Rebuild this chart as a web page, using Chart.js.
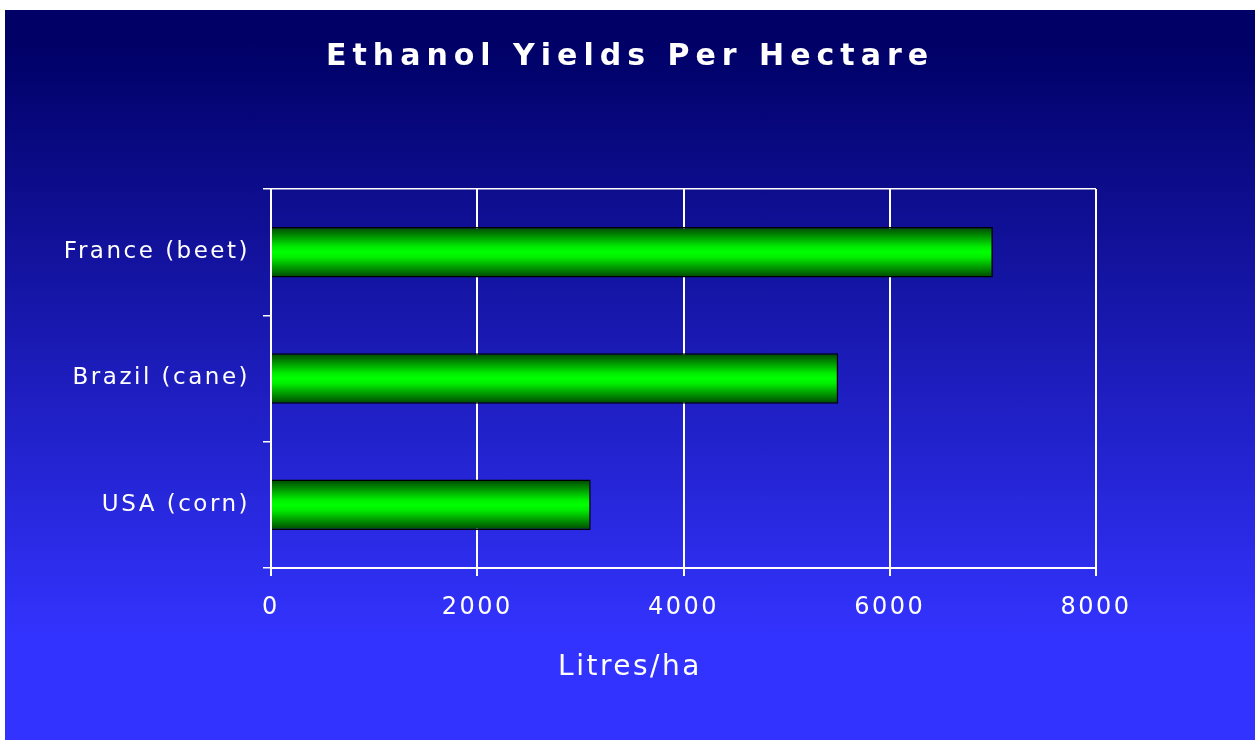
<!DOCTYPE html>
<html>
<head>
<meta charset="utf-8">
<script src="https://cdn.jsdelivr.net/npm/chart.js@4/dist/chart.umd.min.js"></script>
<style>
html, body { margin: 0; background: #fff; }
#wrap {
    position: absolute; left: 5px; top: 10px; width: 1250px; height: 730px;
    background: linear-gradient(#000066 0%, #000066 4%, #3333ff 86%, #3333ff 100%);
}
</style>
</head>
<body>
<div id="wrap"><canvas id="myChart" width="1250" height="730"></canvas></div>
<script>
const labels = ['France (beet)', 'Brazil (cane)', 'USA (corn)'];
const yields = [7000, 5500, 3100];
const xMin = 0;
const xMax = 8000;
const xStep = 2000;

const FONT = 'DejaVu Sans';
const BAR_PCT = 0.4;

// green tube look: dark edges, bright middle
const barFill = (c) => {
    const ya = c.chart.scales.y;
    if (!ya || c.type !== 'data') return '#00ff00';
    const yc = ya.getPixelForValue(c.dataIndex);
    const h = ya.height / labels.length * BAR_PCT / 2;
    if (!isFinite(yc) || !isFinite(h) || h <= 0) return '#00ff00';
    const g = c.chart.ctx.createLinearGradient(0, yc - h, 0, yc + h);
    g.addColorStop(0, '#004400');
    g.addColorStop(0.4, '#00ee00');
    g.addColorStop(0.5, '#00ff00');
    g.addColorStop(0.6, '#00ee00');
    g.addColorStop(1, '#004400');
    return g;
};

// title + subtitle centred on the whole canvas, wide lettering everywhere
const textBoxes = (chart) => chart.boxes.filter(b => !b.axis && b.options && typeof b.options.text === 'string');

const spacing = {
    id: 'spacing',
    beforeUpdate(chart) { chart.ctx.letterSpacing = '2.5px'; },
    afterLayout(chart) {
        textBoxes(chart).forEach(b => {
            b.left = 0;
            b.right = chart.width;
            b.width = chart.width;
        });
    },
    beforeDraw(chart) {
        chart.ctx.letterSpacing = '2.5px';
        textBoxes(chart).forEach(b => {
            if (b.spaced) return;
            const draw = b.draw.bind(b);
            const ls = b.options.font.weight === 'bold' ? '6px' : '2.5px';
            b.draw = () => {
                const c = chart.ctx;
                c.save();
                c.letterSpacing = ls;
                draw();
                c.restore();
            };
            b.spaced = true;
        });
    }
};

const ctx = document.getElementById('myChart').getContext('2d');
const myChart = new Chart(ctx, {
    type: 'bar',
    data: {
        labels: labels,
        datasets: [{
            label: 'Litres/ha',
            data: yields,
            backgroundColor: barFill,
            borderColor: '#000000',
            borderWidth: 1.5,
            barPercentage: BAR_PCT,
            categoryPercentage: 1
        }]
    },
    options: {
        indexAxis: 'y',
        responsive: false,
        animation: false,
        layout: { padding: { left: 0, right: 159, top: 0, bottom: 0 } },
        plugins: {
            legend: { display: false },
            tooltip: { enabled: false },
            title: {
                display: true,
                text: 'Ethanol Yields Per Hectare',
                color: '#ffffff',
                font: { family: FONT, size: 30, weight: 'bold' },
                padding: { top: 29, bottom: 114 }
            },
            subtitle: {
                display: true,
                position: 'bottom',
                text: 'Litres/ha',
                color: '#ffffff',
                font: { family: FONT, size: 28, weight: 'normal' },
                padding: { top: 0, bottom: 55 }
            }
        },
        scales: {
            x: {
                min: xMin,
                max: xMax,
                grid: { color: '#ffffff', lineWidth: 2, tickLength: 8 },
                border: { color: '#ffffff', width: 2 },
                ticks: {
                    stepSize: xStep,
                    color: '#ffffff',
                    font: { family: FONT, size: 24 },
                    padding: 17,
                    callback: (v) => String(v)
                },
                afterFit: (s) => { s.height = 83.4; }
            },
            y: {
                grid: {
                    offset: true,
                    color: (c) => (c.index === 0 ? '#ffffff' : 'rgba(0,0,0,0)'),
                    tickColor: '#ffffff',
                    lineWidth: 1.5,
                    tickLength: 8
                },
                border: { color: '#ffffff', width: 2 },
                ticks: {
                    color: '#ffffff',
                    font: { family: FONT, size: 23 },
                    padding: 13
                },
                afterFit: (s) => { s.width = 266; }
            }
        }
    },
    plugins: [spacing]
});
</script>
</body>
</html>
